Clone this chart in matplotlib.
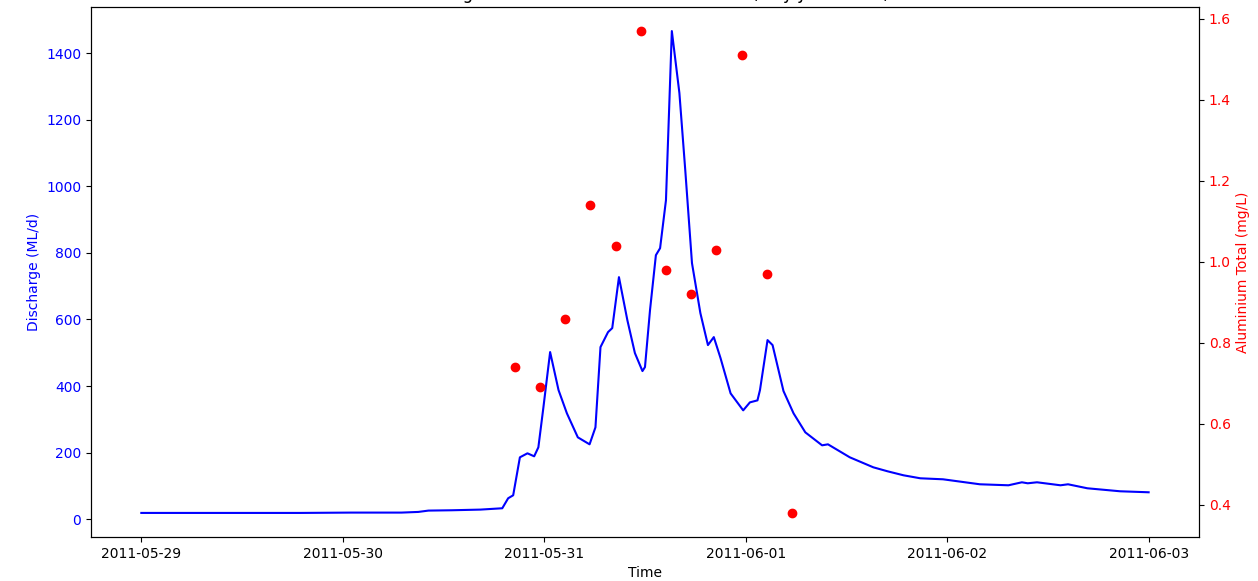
import numpy as np
import pandas as pd
import matplotlib
matplotlib.use("Agg")
import matplotlib.pyplot as plt
import matplotlib.dates as mdates

# discharge (ML/d); hours after 2011-05-29 00:00
q_hours = [0, 10, 19, 25, 31, 33, 34.2, 37, 40.4, 43.0, 43.7, 44.3, 45.1, 46.0,
           46.8, 47.3, 47.9, 48.7, 49.7, 50.7, 52.0, 53.4, 54.1, 54.7, 55.6,
           56.1, 56.9, 57.9, 58.8, 59.7, 60.0, 60.6, 61.3, 61.8, 62.5, 63.2,
           64.1, 64.8, 65.6, 66.6, 67.5, 68.2, 69.0, 70.2, 71.7, 72.5, 73.4,
           73.7, 74.6, 75.2, 76.5, 77.7, 79.1, 81.1, 81.8, 84.4, 87.2, 88.9,
           90.8, 92.8, 95.5, 99.9, 103.3, 104.9, 105.6, 106.7, 109.5, 110.4,
           112.7, 116.6, 120]
discharge = [19, 19, 19, 20, 20, 22, 26, 27, 29, 33, 63, 72, 186, 198,
             189, 216, 336, 502, 388, 318, 246, 225, 276, 517, 562,
             574, 727, 598, 499, 445, 457, 628, 793, 814, 958, 1466,
             1280, 1048, 769, 619, 523, 547, 484, 378, 327, 351, 357,
             388, 538, 523, 385, 318, 261, 222, 225, 186, 156, 144,
             132, 123, 120, 105, 102, 111, 108, 111, 102, 105,
             93, 84, 81]

# aluminium samples (mg/L)
al_times = ["2011-05-30 20:30", "2011-05-30 23:30", "2011-05-31 02:30",
            "2011-05-31 05:30", "2011-05-31 08:30", "2011-05-31 11:30",
            "2011-05-31 14:30", "2011-05-31 17:30", "2011-05-31 20:30",
            "2011-05-31 23:30", "2011-06-01 02:30", "2011-06-01 05:30"]
al_total = [0.74, 0.69, 0.86, 1.14, 1.04, 1.57, 0.98, 0.92, 1.03, 1.51, 0.97, 0.38]

start = pd.Timestamp("2011-05-29")
q_time = start + pd.to_timedelta(q_hours, unit="h")
al_time = pd.to_datetime(al_times)

fig = plt.figure(figsize=(12.58, 5.81), dpi=100)
ax1 = fig.add_axes([0.0723, 0.0757, 0.8808, 0.9123])
ax1.plot(q_time, discharge, color="blue")
ax1.set_xlabel("Time")
ax1.set_ylabel("Discharge (ML/d)", color="blue")
ax1.tick_params(axis="y", labelcolor="blue")
ax1.xaxis.set_major_locator(mdates.DayLocator())
ax1.xaxis.set_major_formatter(mdates.DateFormatter("%Y-%m-%d"))

ax2 = ax1.twinx()
ax2.scatter(al_time, al_total, color="red", zorder=3)
ax2.set_ylabel("Aluminium Total (mg/L)", color="red")
ax2.tick_params(axis="y", labelcolor="red")

ax1.set_title("Discharge and Aluminium Total over Time (May-June 2011)")

fig.savefig("out.png", dpi=100)
